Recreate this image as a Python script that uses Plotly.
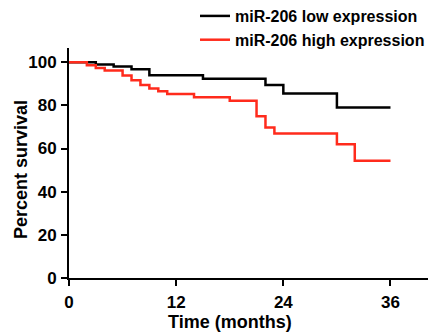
import plotly.graph_objects as go

# Kaplan-Meier step data (months, percent survival)
low_t = [0, 3, 5, 7, 9, 15, 22, 24, 30, 36]
low_s = [100, 99, 98, 96.8, 94, 92.4, 89.5, 85.5, 79, 79]

high_t = [0, 2, 3, 4, 6, 7, 8, 9, 10, 11, 14, 18, 21, 22, 23, 30, 32, 36]
high_s = [100, 98.6, 97.3, 96.2, 93.8, 91.6, 89.5, 87.8, 86.6, 85.3, 83.8, 82.1, 75, 69.7, 67, 62, 54.3, 54.3]

names = ["miR-206 low expression", "miR-206 high expression"]
colors = ["#000000", "#ff2b1c"]

x_ticks = [0, 12, 24, 36]
y_ticks = [0, 20, 40, 60, 80, 100]

FONT = "Liberation Sans, Arial, sans-serif"

fig = go.Figure()
fig.add_trace(go.Scatter(x=low_t, y=low_s, mode="lines", name=names[0],
                         line=dict(color=colors[0], width=2.5, shape="hv")))
fig.add_trace(go.Scatter(x=high_t, y=high_s, mode="lines", name=names[1],
                         line=dict(color=colors[1], width=2.5, shape="hv")))

axis_common = dict(
    showgrid=False, zeroline=False, showline=True, linecolor="black", linewidth=2,
    ticks="outside", ticklen=6, tickwidth=2, tickcolor="black",
    tickfont=dict(family=FONT, size=17, color="black", weight="bold"),
)

fig.update_xaxes(range=[0, 40.2], tickvals=x_ticks, ticklabelstandoff=2, **axis_common)
fig.update_yaxes(range=[0, 106.6], tickvals=y_ticks, ticklabelstandoff=1, **axis_common)

fig.add_annotation(x=18, xref="x", y=-0.191, yref="paper",
                   text="Time (months)", showarrow=False,
                   font=dict(family=FONT, size=18, color="black", weight="bold"),
                   yanchor="middle", xanchor="center")
fig.add_annotation(x=-0.1337, xref="paper", y=50, yref="y",
                   text="Percent survival", showarrow=False, textangle=-90,
                   font=dict(family=FONT, size=18, color="black", weight="bold"),
                   xanchor="center", yanchor="middle")

fig.update_layout(
    width=431, height=332,
    margin=dict(l=69, r=3, t=48, b=54, autoexpand=False),
    plot_bgcolor="white", paper_bgcolor="white",
    showlegend=True,
    legend=dict(x=0.351, y=1.213, xanchor="left", yanchor="top",
                font=dict(family=FONT, size=16, color="black", weight="bold"),
                bgcolor="rgba(0,0,0,0)", tracegroupgap=0, itemwidth=30),
)

fig.write_html("out.html", config={"displayModeBar": False},
               post_script="document.body.style.margin='0';")
